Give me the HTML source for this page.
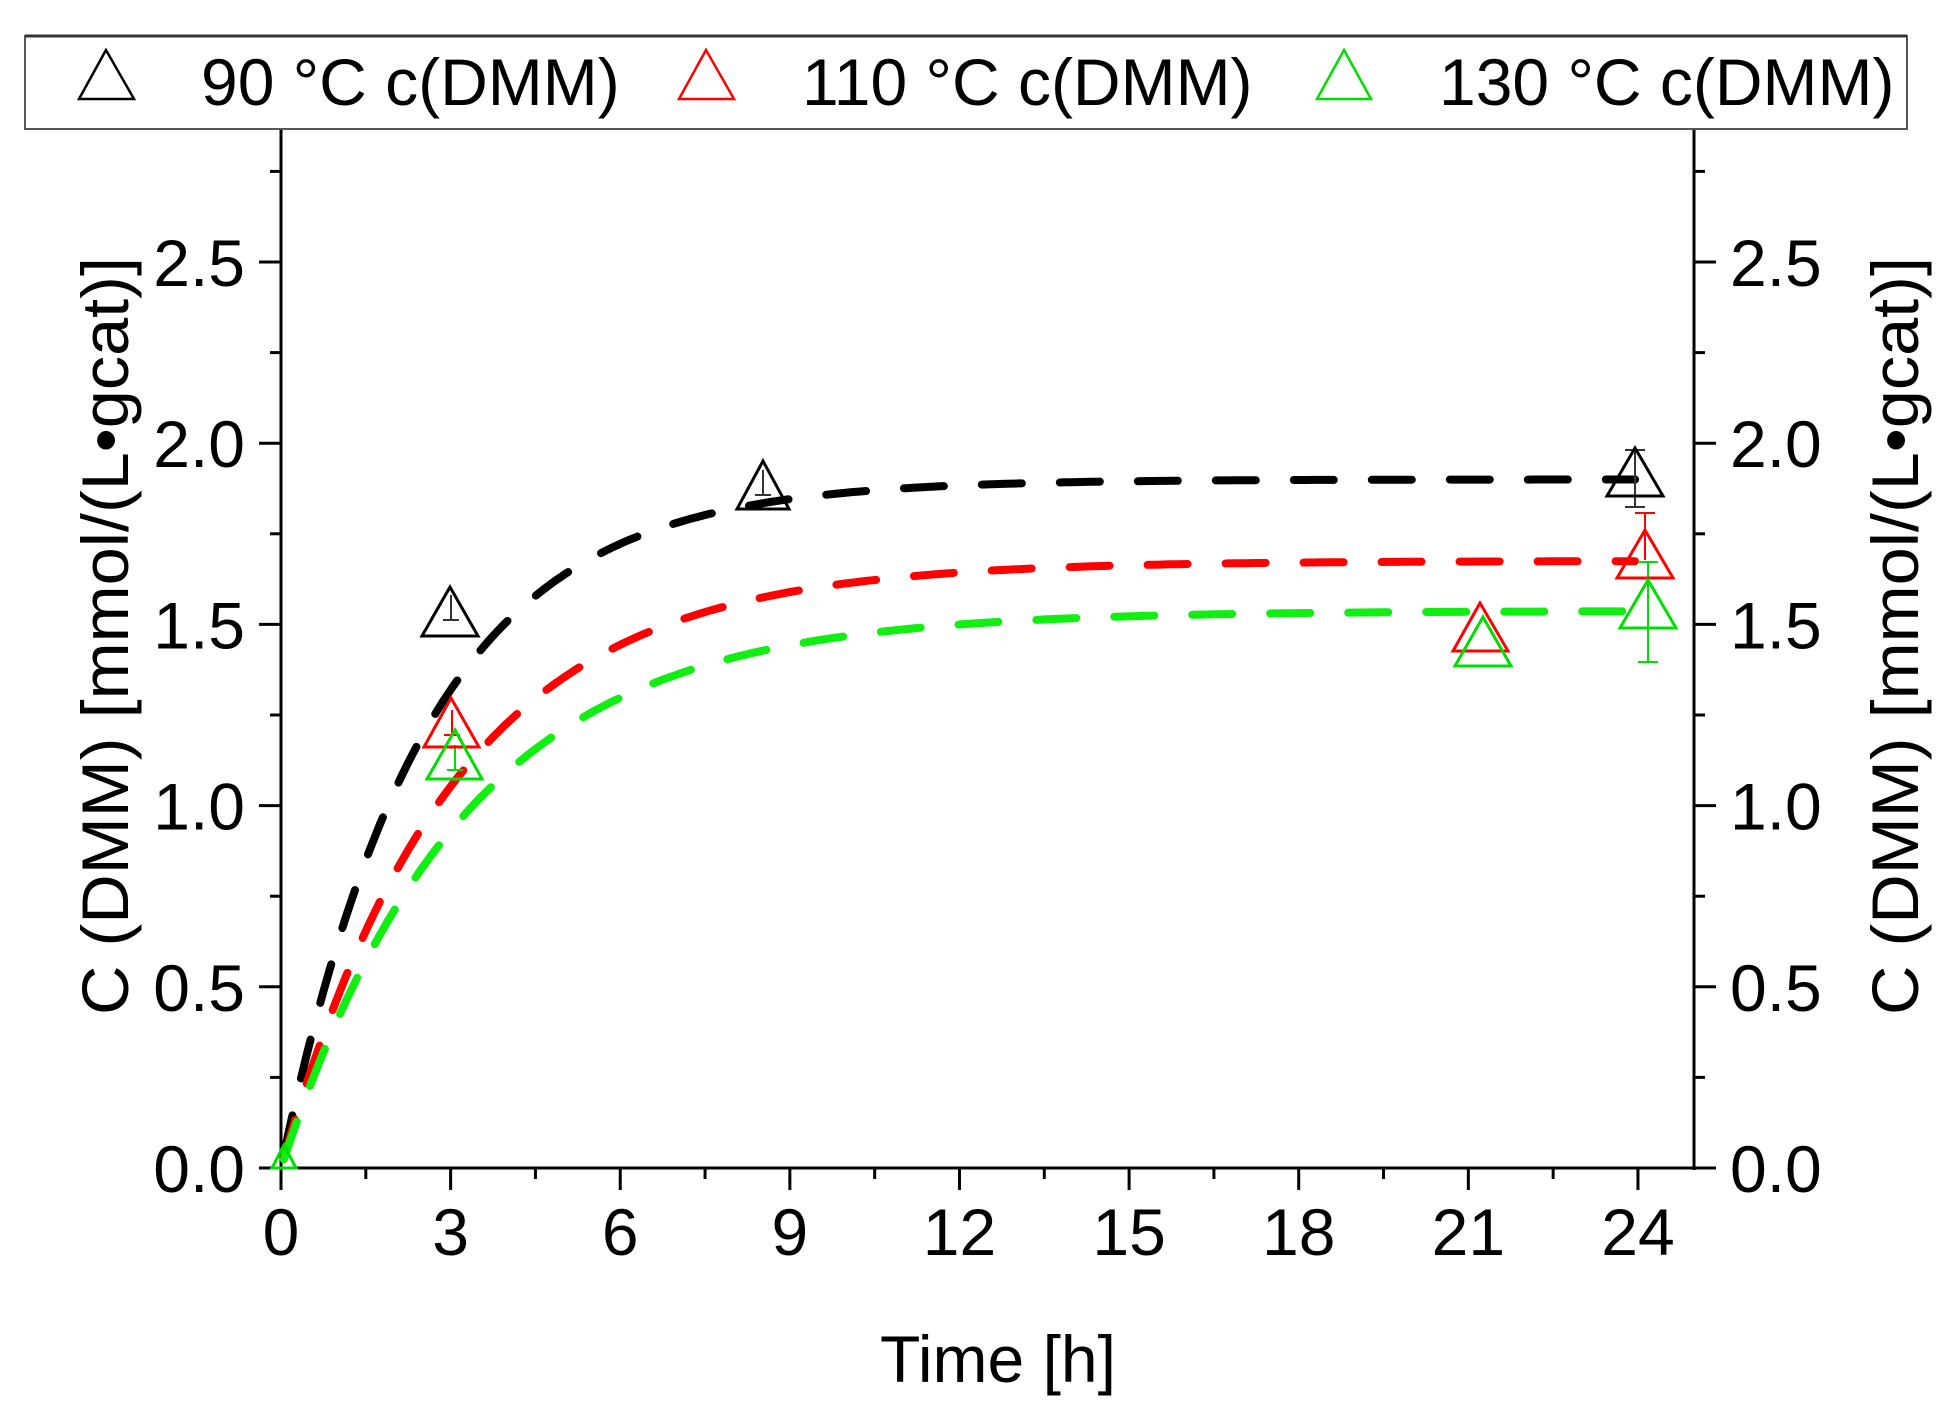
<!DOCTYPE html>
<html><head><meta charset="utf-8"><style>
html,body{margin:0;padding:0;background:#fff;}
svg{display:block;font-family:"Liberation Sans",Arial,sans-serif;}
</style></head><body>
<svg width="1937" height="1403" viewBox="0 0 1937 1403" xmlns="http://www.w3.org/2000/svg">
<rect width="1937" height="1403" fill="#fff"/>
<!-- legend -->
<rect x="25" y="36" width="1882" height="93" fill="#fff" stroke="#555" stroke-width="2"/>
<line x1="25" y1="36" x2="1907" y2="36" stroke="#333" stroke-width="3"/>
<polygon points="106,50 79,99 134,99" fill="none" stroke="#000" stroke-width="2.5"/>
<text x="201" y="105" font-size="66">90 °C c(DMM)</text>
<polygon points="706,50 679,99 734,99" fill="none" stroke="#f00" stroke-width="2.5"/>
<text x="802" y="105" font-size="66">110 °C c(DMM)</text>
<polygon points="1344,50 1317,99 1371,99" fill="none" stroke="#0d0" stroke-width="2.5"/>
<text x="1439" y="105" font-size="66">130 °C c(DMM)</text>

<!-- axes -->
<g stroke="#000" stroke-width="3" fill="none">
<line x1="281" y1="130" x2="281" y2="1170"/>
<line x1="1694" y1="130" x2="1694" y2="1170"/>
<line x1="262" y1="1168" x2="1712" y2="1168"/>
</g>
<g id="ticks" stroke="#000" stroke-width="3"></g>
<g id="labels" font-size="66"></g>

<text font-size="66" transform="translate(128,636) rotate(-90)" text-anchor="middle" textLength="758" lengthAdjust="spacingAndGlyphs">C (DMM) [mmol/(L•gcat)]</text>
<text font-size="66" transform="translate(1918,636) rotate(-90)" text-anchor="middle" textLength="758" lengthAdjust="spacingAndGlyphs">C (DMM) [mmol/(L•gcat)]</text>
<text x="998" y="1382" font-size="66" text-anchor="middle">Time [h]</text>

<g id="curves" fill="none" stroke-width="8" stroke-linecap="round" stroke-dasharray="40 38"></g>

<!-- error bars -->
<g stroke-width="2" fill="none">
<path d="M1635 450 V507 M1625 450 H1645 M1625 507 H1645" stroke="#333"/>
<path d="M1645 513 V560 M1635 513 H1655" stroke="#f00"/>
<path d="M1648 562 V662 M1638 562 H1658 M1638 662 H1658" stroke="#0d0"/>
<path d="M451 595 V620 M443 620 H459" stroke="#333"/>
<path d="M763 470 V495 M755 495 H771" stroke="#333"/>
<path d="M452 710 V735 M444 735 H460" stroke="#f00"/>
<path d="M455 745 V770 M447 770 H463" stroke="#0d0"/>
</g>
<!-- markers -->
<g fill="none" stroke-width="3">
<polygon points="450,587 422,636 478,636" stroke="#000"/>
<polygon points="763,461 737,509 789,509" stroke="#000"/>
<polygon points="1635,448 1607,496 1663,496" stroke="#000"/>
<polygon points="451,698 424,747 479,747" stroke="#f00"/>
<polygon points="1480,603 1453,651 1508,651" stroke="#f00"/>
<polygon points="1645,530 1617,578 1673,578" stroke="#f00"/>
<polygon points="455,730 427,779 482,779" stroke="#0d0"/>
<polygon points="1483,617 1455,666 1511,666" stroke="#0d0"/>
<polygon points="1648,580 1620,628 1676,628" stroke="#0d0"/>
<polygon points="284,1145 272,1168 296,1168" stroke="#0d0"/>
</g>
</svg>
<script>
const NS="http://www.w3.org/2000/svg";
const X=t=>281+56.54*t, Y=v=>1168-362.4*v;
const tk=document.getElementById('ticks'), lb=document.getElementById('labels');
function ln(g,x1,y1,x2,y2){const l=document.createElementNS(NS,'line');l.setAttribute('x1',x1);l.setAttribute('y1',y1);l.setAttribute('x2',x2);l.setAttribute('y2',y2);g.appendChild(l);}
function tx(g,x,y,s,a){const t=document.createElementNS(NS,'text');t.setAttribute('x',x);t.setAttribute('y',y);t.setAttribute('text-anchor',a);t.textContent=s;g.appendChild(t);}
for(let i=0;i<=16;i++){const t=i*1.5,x=X(t);const maj=i%2==0;ln(tk,x,1168,x,1168+(maj?22:11));if(maj)tx(lb,x,1255,String(t),'middle');}
for(let i=0;i<=11;i++){const v=i*0.25,y=Y(v);const maj=i%2==0;ln(tk,281,y,281-(maj?22:11),y);ln(tk,1694,y,1694+(maj?22:11),y);if(maj){tx(lb,245,y+24,v.toFixed(1),'end');tx(lb,1730,y+24,v.toFixed(1),'start');}}
const cv=document.getElementById('curves');
[[1.9,0.395,'#000'],[1.675,0.33,'#f00'],[1.537,0.31,'#1e1']].forEach(([A,k,c])=>{let d='';for(let t=0.05;t<=24.05;t+=0.1){d+=(d?'L':'M')+X(t).toFixed(1)+' '+Y(A*(1-Math.exp(-k*t))).toFixed(1);}const p=document.createElementNS(NS,'path');p.setAttribute('d',d);p.setAttribute('stroke',c);cv.appendChild(p);});
</script>
</body></html>
